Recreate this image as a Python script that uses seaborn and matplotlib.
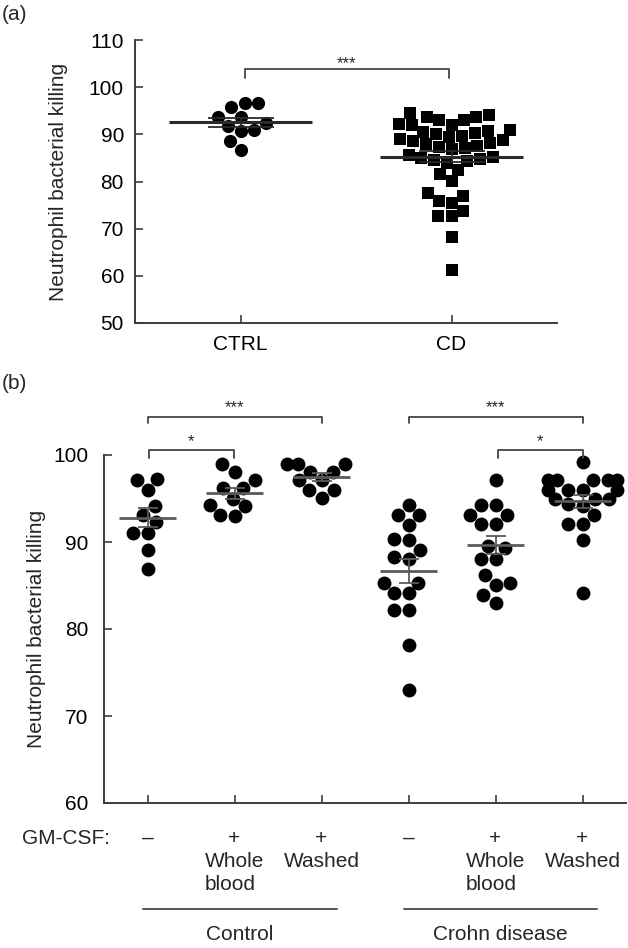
import numpy as np
import pandas as pd
import matplotlib
matplotlib.use("Agg")
import matplotlib.pyplot as plt
import matplotlib.transforms as mtrans
import seaborn as sns

# ---------------- data ----------------
a_order = ["CTRL", "CD"]
a_ctrl = [96.6, 95.8, 96.6, 93.7, 93.7, 92.5, 91.8, 90.9, 90.7, 88.6, 86.7]
a_cd = [94.6, 94.1, 93.7, 93.6, 93.0, 93.0, 92.1, 92.0, 92.0,
        91.0, 90.8, 90.5, 90.2, 90.0, 89.7, 89.4, 89.1,
        88.8, 88.5, 88.2, 87.9, 87.6, 87.3, 87.0, 86.8,
        85.6, 85.2, 85.0, 84.8, 84.6, 84.4, 84.0,
        82.5, 81.5, 80.2, 77.5, 76.9, 75.9, 75.5,
        73.8, 72.7, 72.6, 68.2, 61.2]

b_order = ["Control -", "Control WB", "Control W", "CD -", "CD WB", "CD W"]
b_ctrl_none = [97.2, 97.1, 96.0, 94.1, 93.1, 92.3, 91.0, 91.0, 89.1, 86.9]
b_ctrl_wb = [99.0, 98.1, 97.1, 96.2, 96.2, 95.0, 94.3, 94.1, 93.1, 93.0]
b_ctrl_wash = [99.0, 99.0, 99.0, 98.1, 98.1, 97.1, 97.1, 96.0, 96.0, 95.1]
b_cd_none = [94.3, 93.1, 93.1, 92.0, 90.4, 90.2, 89.1, 88.3, 88.1, 85.3, 85.3,
             84.1, 84.1, 82.2, 82.2, 78.2, 73.0]
b_cd_wb = [97.1, 94.3, 94.3, 93.1, 93.1, 92.1, 92.1, 89.5, 89.3, 88.1, 88.1,
           86.2, 85.3, 85.1, 83.9, 83.0]
b_cd_wash = [99.2, 97.1, 97.1, 97.1, 97.1, 97.1, 96.0, 96.0, 96.0, 96.0,
             95.0, 95.0, 95.0, 94.4, 94.1, 93.1, 92.1, 92.1, 90.2, 84.1]

gmcsf_signs = ["\u2013", "+", "+", "\u2013", "+", "+"]
sub_labels = ["", "Whole\nblood", "Washed", "", "Whole\nblood", "Washed"]
group_labels = ["Control", "Crohn disease"]

# ---------------- style ----------------
sns.set_style("ticks")
plt.rcParams["font.family"] = ["Liberation Sans", "DejaVu Sans"]
FS = 15
AX_COL = "#3c3c3c"
plt.rcParams.update({
    "axes.edgecolor": AX_COL, "axes.linewidth": 1.4,
    "xtick.color": AX_COL, "ytick.color": AX_COL,
    "xtick.labelcolor": "black", "ytick.labelcolor": "black",
    "xtick.direction": "in", "ytick.direction": "in",
    "xtick.major.size": 6, "ytick.major.size": 6,
    "xtick.major.width": 1.2, "ytick.major.width": 1.2,
})

W, H = 628, 948
fig = plt.figure(figsize=(W / 100, H / 100), dpi=100)


def frame(l, t, r, b):
    return [l / W, 1 - b / H, (r - l) / W, (b - t) / H]


# ---------------- panel (a) ----------------
axa = fig.add_axes(frame(135, 40, 557, 323))
dfa_c = pd.DataFrame({"grp": "CTRL", "val": a_ctrl})
dfa_d = pd.DataFrame({"grp": "CD", "val": a_cd})
sns.swarmplot(data=dfa_c, x="grp", y="val", order=a_order, color="black",
              marker="o", size=9.5, linewidth=0, ax=axa, zorder=2)
sns.swarmplot(data=dfa_d, x="grp", y="val", order=a_order, color="black",
              marker="s", size=9.0, linewidth=0, ax=axa, zorder=2)
for i, vals in enumerate([a_ctrl, a_cd]):
    v = np.asarray(vals)
    m = v.mean()
    se = v.std(ddof=1) / np.sqrt(len(v))
    axa.hlines(m, i - 0.34, i + 0.34, color="#2a2a2a", lw=2.2, zorder=4)
    axa.errorbar(i, m, yerr=se, color="#2a2a2a", lw=1.3, capsize=24,
                 capthick=1.3, zorder=4)
axa.set_xlim(-0.5, 1.5)
axa.set_ylim(50, 110)
axa.set_yticks(np.arange(50, 111, 10))
axa.tick_params(axis="both", labelsize=FS)
axa.tick_params(axis="x", pad=9)
axa.tick_params(axis="y", pad=8)
axa.set_xlabel("")
axa.set_ylabel("Neutrophil bacterial killing", fontsize=FS)
axa.yaxis.set_label_coords(-0.158, 0.5)
sns.despine(ax=axa)
# significance bracket
axa.plot([0.02, 0.02, 0.99, 0.99], [101.9, 103.85, 103.85, 101.9],
         color="#444444", lw=1.3, clip_on=False)
axa.text(0.5, 105.0, "***", ha="center", va="center", fontsize=12)

# ---------------- panel (b) ----------------
axb = fig.add_axes(frame(104, 455, 626, 803))
groups = [b_ctrl_none, b_ctrl_wb, b_ctrl_wash, b_cd_none, b_cd_wb, b_cd_wash]
dfb = pd.concat([pd.DataFrame({"grp": g, "val": v}) for g, v in zip(b_order, groups)])
sns.swarmplot(data=dfb, x="grp", y="val", order=b_order, color="black",
              marker="o", size=10, linewidth=0, ax=axb, zorder=2)
for i, vals in enumerate(groups):
    v = np.asarray(vals)
    m = v.mean()
    se = v.std(ddof=1) / np.sqrt(len(v))
    axb.hlines(m, i - 0.33, i + 0.33, color="#5a5a5a", lw=2.0, zorder=4)
    axb.errorbar(i, m, yerr=se, color="#5a5a5a", lw=1.3, capsize=7,
                 capthick=1.3, zorder=4)
axb.set_xlim(-0.5, 5.5)
axb.set_ylim(60, 100)
axb.set_yticks(np.arange(60, 101, 10))
axb.set_xticks(range(6))
axb.set_xticklabels([""] * 6)
axb.tick_params(axis="y", labelsize=FS, pad=11)
axb.set_xlabel("")
axb.set_ylabel("Neutrophil bacterial killing", fontsize=FS)
axb.yaxis.set_label_coords(-0.111, 0.5)
sns.despine(ax=axb)

def bracket(ax, x0, x1, ylo, yhi, txt, ty, fs):
    ax.plot([x0, x0, x1, x1], [ylo, yhi, yhi, ylo], color="#444444", lw=1.3,
            clip_on=False)
    ax.text((x0 + x1) / 2, ty, txt, ha="center", va="center", fontsize=fs)

bracket(axb, 0, 2, 103.7, 104.4, "***", 105.4, 12)
bracket(axb, 3, 5, 103.7, 104.4, "***", 105.4, 12)
bracket(axb, 0.02, 0.99, 99.7, 100.6, "*", 101.5, 12)
bracket(axb, 4.03, 5.0, 99.7, 100.6, "*", 101.5, 12)

# labels below panel (b)
tr = mtrans.blended_transform_factory(axb.transData, fig.transFigure)
fy = lambda px: 1 - px / H
fig.text(110 / W, fy(838), "GM-CSF:", ha="right", va="center", fontsize=FS)
for i, s in enumerate(gmcsf_signs):
    axb.text(i, fy(838), s, transform=tr, ha="center", va="center", fontsize=FS,
             clip_on=False)
    if sub_labels[i]:
        axb.text(i, fy(852), sub_labels[i], transform=tr, ha="center",
                 va="top", fontsize=FS, multialignment="left",
                 linespacing=1.25, clip_on=False)
for (x0, x1), lab in zip([(-0.05, 2.18), (2.95, 5.17)], group_labels):
    axb.plot([x0, x1], [fy(909), fy(909)], transform=tr, color="#555555",
             lw=1.4, clip_on=False)
    axb.text((x0 + x1) / 2, fy(935), lab, transform=tr, ha="center",
             va="center", fontsize=FS, clip_on=False)

fig.text(2 / W, fy(15), "(a)", ha="left", va="center", fontsize=FS)
fig.text(2 / W, fy(384), "(b)", ha="left", va="center", fontsize=FS)

fig.savefig("out.png", dpi=100)
